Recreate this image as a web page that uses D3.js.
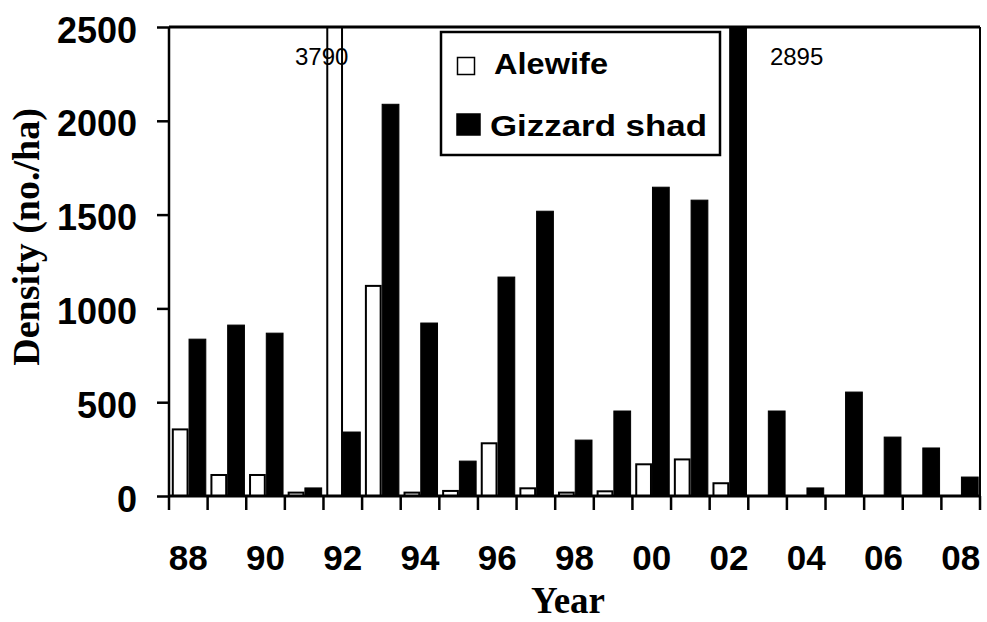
<!DOCTYPE html>
<html>
<head>
<meta charset="utf-8">
<script src="https://cdn.jsdelivr.net/npm/d3@7/dist/d3.min.js"></script>
<style>
  html, body { margin: 0; padding: 0; background: #fff; }
  svg { display: block; }
</style>
</head>
<body>
<svg id="chart" width="987" height="622"></svg>
<script>
// Fish density by year (no./ha)
const years = [1988, 1989, 1990, 1991, 1992, 1993, 1994, 1995, 1996, 1997, 1998,
               1999, 2000, 2001, 2002, 2003, 2004, 2005, 2006, 2007, 2008];
const alewife = [355, 112, 112, 18, 3790, 1120, 18, 27, 281, 41, 18,
                 25, 169, 195, 68, 0, 0, 0, 0, 0, 0];
const gizzardShad = [836, 911, 868, 43, 341, 2088, 922, 186, 1167, 1518, 298,
                     453, 1646, 1577, 2895, 453, 43, 554, 314, 256, 101];
const seriesNames = ["Alewife", "Gizzard shad"];
const yTicks = [0, 500, 1000, 1500, 2000, 2500];
const xTickYears = [1988, 1990, 1992, 1994, 1996, 1998, 2000, 2002, 2004, 2006, 2008];
const xTickLabels = ["88", "90", "92", "94", "96", "98", "00", "02", "04", "06", "08"];
// bars whose value runs past the top of the axis get a value note
const offScale = [
  { series: 0, year: 1992, value: 3790, dx: -13 },
  { series: 1, year: 2002, value: 2895, dx: 59 }
];

const svg = d3.select("#chart");
const margin = { top: 27, right: 7, bottom: 126, left: 169 };
const W = 987, H = 622;
const plotW = W - margin.left - margin.right;
const plotH = H - margin.top - margin.bottom;

const x0 = d3.scaleBand().domain(years).range([0, plotW]).padding(0);
const x1 = d3.scaleBand().domain([0, 1]).range([2.8, 36.3]).padding(0);
const y = d3.scaleLinear().domain([0, 2500]).range([plotH, 0]);

const g = svg.append("g").attr("transform", `translate(${margin.left},${margin.top})`);

g.append("defs").append("clipPath").attr("id", "plotClip")
  .append("rect").attr("x", 0).attr("y", 0).attr("width", plotW).attr("height", plotH);

const rows = years.map((yr, i) => ({ year: yr, values: [alewife[i], gizzardShad[i]] }));

const bars = g.append("g").attr("clip-path", "url(#plotClip)");
const groups = bars.selectAll("g.year").data(rows).join("g")
  .attr("class", "year")
  .attr("transform", d => `translate(${x0(d.year)},0)`);

groups.selectAll("rect")
  .data(d => d.values.map((v, s) => ({ s, v })).filter(d => d.v > 0))
  .join("rect")
  .attr("x", d => d.s === 0 ? x1(d.s) + 1 : x1(d.s) + 0.5)
  .attr("width", d => d.s === 0 ? x1.bandwidth() - 2 : x1.bandwidth())
  .attr("y", d => y(d.v))
  .attr("height", d => y(0) - y(d.v))
  .attr("fill", d => d.s === 0 ? "#fff" : "#000")
  .attr("stroke", "#000")
  .attr("stroke-width", d => d.s === 0 ? 2 : 1);

// value notes for bars beyond the axis maximum
g.selectAll("text.note").data(offScale).join("text")
  .attr("class", "note")
  .attr("x", d => x0(d.year) + x1(d.series) + x1.bandwidth() / 2 + d.dx)
  .attr("y", 38)
  .attr("text-anchor", "middle")
  .attr("font-family", "'Liberation Sans', Arial, sans-serif")
  .attr("font-size", 24)
  .attr("fill", "#000")
  .text(d => d.value);

// frame: top and right edges
g.append("line").attr("x1", 0).attr("x2", plotW).attr("y1", 0).attr("y2", 0)
  .attr("stroke", "#000").attr("stroke-width", 3);
g.append("line").attr("x1", plotW).attr("x2", plotW).attr("y1", 0).attr("y2", plotH)
  .attr("stroke", "#000").attr("stroke-width", 2);

// y axis
const yAxis = g.append("g")
  .call(d3.axisLeft(y).tickValues(yTicks).tickSize(12).tickPadding(20).tickFormat(d3.format("d")));
yAxis.select(".domain").attr("stroke", "#000").attr("stroke-width", 2.5).attr("d", `M0,0V${plotH}`);
yAxis.selectAll(".tick line").attr("stroke", "#000").attr("stroke-width", 2.5);
yAxis.selectAll(".tick text")
  .attr("font-family", "'Liberation Sans', Arial, sans-serif")
  .attr("font-weight", "bold")
  .attr("font-size", 36)
  .attr("fill", "#000")
  .attr("dy", null)
  .attr("y", 15);

// x axis: labels at every other year, tick marks at category boundaries
const xAxis = g.append("g").attr("transform", `translate(0,${plotH})`)
  .call(d3.axisBottom(x0).tickValues(xTickYears).tickSize(0).tickPadding(0)
    .tickFormat(d => xTickLabels[xTickYears.indexOf(d)]));
xAxis.select(".domain").attr("stroke", "#000").attr("stroke-width", 3).attr("d", `M0,0H${plotW}`);
xAxis.selectAll(".tick text")
  .attr("font-family", "'Liberation Sans', Arial, sans-serif")
  .attr("font-weight", "bold")
  .attr("font-size", 35)
  .attr("fill", "#000")
  .attr("dy", null)
  .attr("y", 74);

const edges = years.map(yr => x0(yr)).concat([x0(years[years.length - 1]) + x0.bandwidth()]);
xAxis.selectAll("line.edge").data(edges).join("line")
  .attr("class", "edge")
  .attr("x1", d => d).attr("x2", d => d)
  .attr("y1", 0).attr("y2", 14)
  .attr("stroke", "#000").attr("stroke-width", 2.5);

// axis titles
svg.append("text")
  .attr("x", 568).attr("y", 613)
  .attr("text-anchor", "middle")
  .attr("font-family", "'Liberation Serif', 'Times New Roman', serif")
  .attr("font-weight", "bold")
  .attr("font-size", 37)
  .attr("fill", "#000")
  .text("Year");

svg.append("text")
  .attr("transform", "translate(39,237) rotate(-90)")
  .attr("text-anchor", "middle")
  .attr("font-family", "'Liberation Serif', 'Times New Roman', serif")
  .attr("font-weight", "bold")
  .attr("font-size", 38)
  .attr("fill", "#000")
  .text("Density (no./ha)");

// legend
const legend = svg.append("g");
legend.append("rect")
  .attr("x", 441).attr("y", 32).attr("width", 279).attr("height", 123)
  .attr("fill", "#fff").attr("stroke", "#000").attr("stroke-width", 2.5);

const legendItems = [
  { name: seriesNames[0], sx: 457.5, sy: 57.5, sw: 17, sh: 17, fill: "#fff", tx: 494, ty: 74, tw: 114 },
  { name: seriesNames[1], sx: 457, sy: 114, sw: 23, sh: 21, fill: "#000", tx: 490, ty: 136, tw: 217 }
];
legend.selectAll("rect.sym").data(legendItems).join("rect")
  .attr("class", "sym")
  .attr("x", d => d.sx).attr("y", d => d.sy)
  .attr("width", d => d.sw).attr("height", d => d.sh)
  .attr("fill", d => d.fill).attr("stroke", "#000").attr("stroke-width", 1.5);
legend.selectAll("text.lab").data(legendItems).join("text")
  .attr("class", "lab")
  .attr("x", d => d.tx).attr("y", d => d.ty)
  .attr("font-family", "'Liberation Sans', Arial, sans-serif")
  .attr("font-weight", "bold")
  .attr("font-size", 30)
  .attr("fill", "#000")
  .attr("textLength", d => d.tw)
  .attr("lengthAdjust", "spacingAndGlyphs")
  .text(d => d.name);
</script>
</body>
</html>
